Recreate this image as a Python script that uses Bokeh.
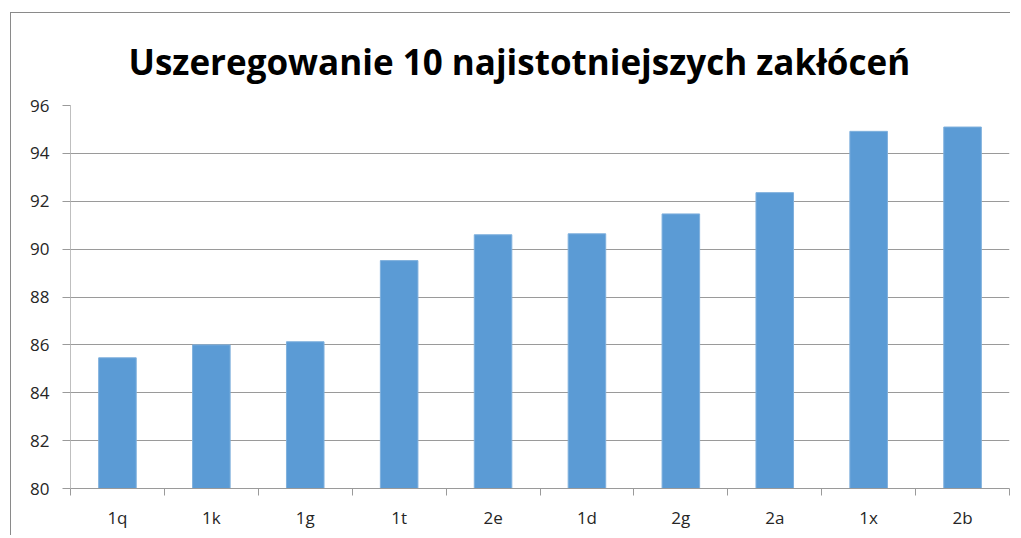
from bokeh.plotting import figure
from bokeh.models import ColumnDataSource, Range1d, FixedTicker, Title
from bokeh.embed import file_html
from bokeh.resources import INLINE

categories = ["1q", "1k", "1g", "1t", "2e", "1d", "2g", "2a", "1x", "2b"]
values = [85.46, 86.0, 86.13, 89.52, 90.6, 90.64, 91.47, 92.36, 94.92, 95.1]
y_ticks = [80, 82, 84, 86, 88, 90, 92, 94, 96]
title_text = "Uszeregowanie 10 najistotniejszych zakłóceń"

xs = [i + 0.5 for i in range(len(categories))]
src = ColumnDataSource(dict(x=xs, top=values, cat=categories))

p = figure(width=1000, height=523, output_backend="svg", toolbar_location=None,
           x_range=Range1d(0, len(categories)), y_range=Range1d(80, 96),
           min_border_left=59, min_border_right=2, min_border_top=92, min_border_bottom=48)
p.styles = {"border-top": "1px solid #8a8a8a", "border-left": "1px solid #8a8a8a",
            "margin-left": "10px", "margin-top": "12px"}

p.title = Title(text=title_text, align="left", text_font="Open Sans",
                text_font_style="bold", text_font_size="35px", text_color="#000000",
                offset=58, standoff=42)

p.vbar(x="x", top="top", bottom=80, width=0.4, source=src,
       fill_color="#5B9BD5", line_color="#7fb0dd", line_width=1)

p.outline_line_color = None
p.background_fill_color = "white"
p.border_fill_color = "white"

p.xgrid.grid_line_color = None
p.ygrid.grid_line_color = "#9a9a9a"
p.ygrid.grid_line_width = 1
p.yaxis.ticker = FixedTicker(ticks=y_ticks)

p.xaxis.ticker = FixedTicker(ticks=xs, minor_ticks=list(range(len(categories) + 1)))
p.xaxis.major_label_overrides = {x: c for x, c in zip(xs, categories)}
p.xaxis.major_tick_line_color = None
p.xaxis.minor_tick_out = 7
p.xaxis.minor_tick_in = 0
p.xaxis.minor_tick_line_color = "#9a9a9a"
p.xaxis.axis_line_color = "#9a9a9a"
p.xaxis.major_label_standoff = 10

p.yaxis.axis_line_color = "#bfbfbf"
p.yaxis.major_tick_out = 8
p.yaxis.major_tick_in = 0
p.yaxis.major_tick_line_color = "#9a9a9a"
p.yaxis.minor_tick_line_color = None
p.yaxis.major_label_standoff = 13

for ax in (p.xaxis, p.yaxis):
    ax.major_label_text_font = "Open Sans"
    ax.major_label_text_font_size = "17px"
    ax.major_label_text_color = "#262626"

open("out.html", "w").write(file_html(p, INLINE))
